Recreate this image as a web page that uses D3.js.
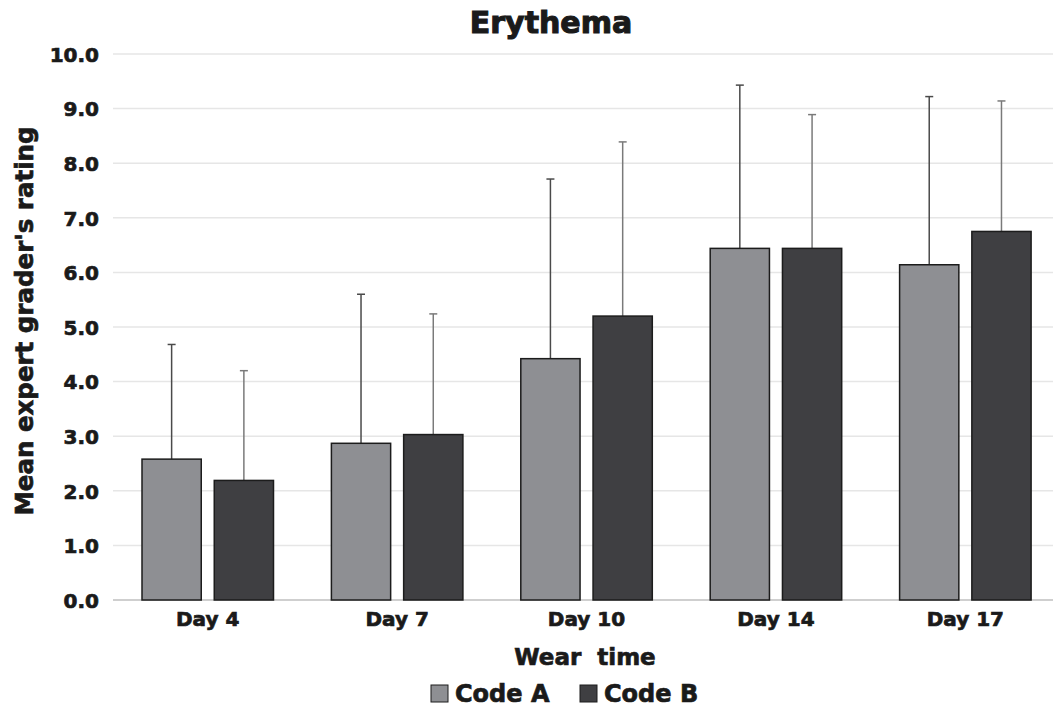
<!DOCTYPE html>
<html>
<head>
<meta charset="utf-8">
<script src="https://cdn.jsdelivr.net/npm/d3@7"></script>
<style>
  body { margin: 0; background: #fff; }
  text { font-family: "DejaVu Sans", sans-serif; font-weight: bold; fill: #1a1a1a; stroke: #1a1a1a; stroke-width: 0.7px; }
</style>
</head>
<body>
<svg id="chart" width="1053" height="708"></svg>
<script>
var days = ['Day 4', 'Day 7', 'Day 10', 'Day 14', 'Day 17']
var codes = ['Code A', 'Code B']
var meanA = [2.58, 2.87, 4.42, 6.44, 6.14]
var meanB = [2.19, 3.03, 5.2, 6.44, 6.75]
var upperA = [4.68, 5.6, 7.71, 9.43, 9.22]
var upperB = [4.2, 5.24, 8.39, 8.89, 9.14]
var yTicks = [0, 1, 2, 3, 4, 5, 6, 7, 8, 9, 10]

var colors = { 'Code A': '#8e8f93', 'Code B': '#3f3f42' }
var errColors = { 'Code A': '#4a4a4a', 'Code B': '#7a7a7a' }

var rows = []
days.forEach(function (d, i) {
    rows.push({ day: d, code: 'Code A', mean: meanA[i], upper: upperA[i] })
    rows.push({ day: d, code: 'Code B', mean: meanB[i], upper: upperB[i] })
})

var svg = d3.select('#chart')
var width = +svg.attr('width')

var x0 = d3.scaleBand().domain(days).range([113, 1060])
var x1 = d3.scaleBand().domain(codes).range([29, 160.5]).paddingInner(0.18)
var y = d3.scaleLinear().domain([0, 10]).range([600, 54])

// gridlines
svg.append('g')
    .selectAll('line')
    .data(yTicks)
    .enter()
    .append('line')
    .attr('x1', 113)
    .attr('x2', width)
    .attr('y1', d => y(d))
    .attr('y2', d => y(d))
    .attr('stroke', d => d == 0 ? '#cfcfcf' : '#e6e6e6')
    .attr('stroke-width', d => d == 0 ? 2 : 1.5)

// y axis labels
var yAxis = svg.append('g')
    .attr('transform', 'translate(113,0)')
    .call(d3.axisLeft(y).tickValues(yTicks).tickFormat(d3.format('.1f')).tickSize(0).tickPadding(14))
yAxis.select('.domain').remove()
yAxis.selectAll('text')
    .attr('font-size', 20)
    .attr('font-family', null)
    .attr('dy', '0.36em')

// x axis labels
var xAxis = svg.append('g')
    .attr('transform', 'translate(0,600)')
    .call(d3.axisBottom(x0).tickSize(0).tickPadding(12))
xAxis.select('.domain').remove()
xAxis.selectAll('text')
    .attr('font-size', 20)
    .attr('font-family', null)

// bars
var groups = svg.append('g')
    .selectAll('g')
    .data(rows)
    .enter()
    .append('g')
    .attr('transform', d => 'translate(' + (x0(d.day) + x1(d.code)) + ',0)')

groups.append('line')
    .attr('x1', x1.bandwidth() / 2)
    .attr('x2', x1.bandwidth() / 2)
    .attr('y1', d => y(d.mean))
    .attr('y2', d => y(d.upper))
    .attr('stroke', d => errColors[d.code])
    .attr('stroke-width', 1.5)

groups.append('line')
    .attr('x1', x1.bandwidth() / 2 - 4)
    .attr('x2', x1.bandwidth() / 2 + 4)
    .attr('y1', d => y(d.upper))
    .attr('y2', d => y(d.upper))
    .attr('stroke', d => errColors[d.code])
    .attr('stroke-width', 1.5)

groups.append('rect')
    .attr('x', 0)
    .attr('y', d => y(d.mean))
    .attr('width', x1.bandwidth())
    .attr('height', d => y(0) - y(d.mean))
    .attr('fill', d => colors[d.code])
    .attr('stroke', '#1c1c1c')
    .attr('stroke-width', 1.5)

// title
svg.append('text')
    .attr('x', 551)
    .attr('y', 33)
    .attr('text-anchor', 'middle')
    .attr('font-size', 30)
    .style('stroke-width', '1.1px')
    .text('Erythema')

// axis titles
svg.append('text')
    .attr('x', 585)
    .attr('y', 665)
    .attr('text-anchor', 'middle')
    .attr('font-size', 23)
    .style('white-space', 'pre')
    .text('Wear  time')

svg.append('text')
    .attr('transform', 'translate(33,321) rotate(-90)')
    .attr('text-anchor', 'middle')
    .attr('font-size', 24.5)
    .text("Mean expert grader's rating")

// legend
var legendX = [431, 580]
var legend = svg.append('g')
    .selectAll('g')
    .data(codes)
    .enter()
    .append('g')
    .attr('transform', (d, i) => 'translate(' + legendX[i] + ',685)')
legend.append('rect')
    .attr('width', 17)
    .attr('height', 17)
    .attr('fill', d => colors[d])
    .attr('stroke', '#1c1c1c')
    .attr('stroke-width', 1)
legend.append('text')
    .attr('x', 24)
    .attr('y', 17)
    .attr('font-size', 24)
    .text(d => d)
</script>
</body>
</html>
